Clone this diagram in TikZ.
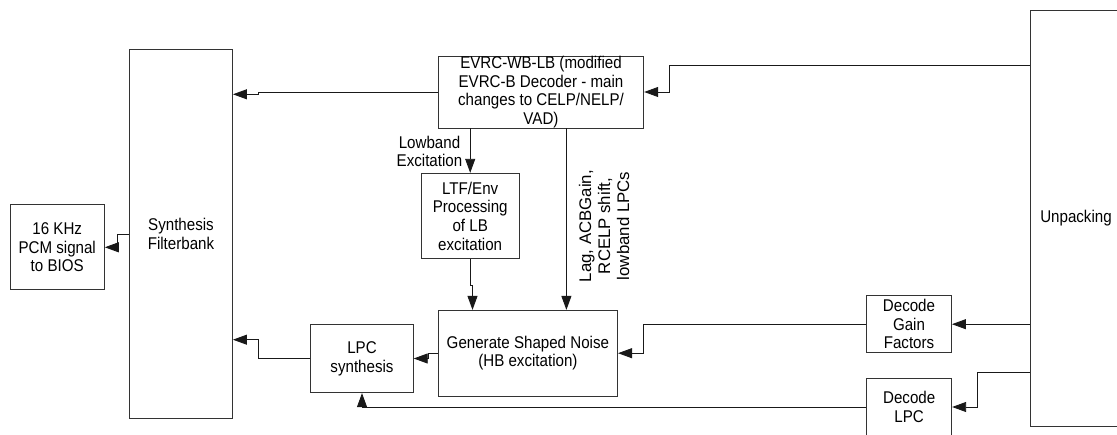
\documentclass[tikz,border=0pt]{standalone}
\usepackage{fontspec}
\setmainfont{Liberation Sans}[FakeStretch=0.89]
\newfontfamily\rotfont{Liberation Sans}
\usetikzlibrary{arrows.meta}
\tikzset{
  box/.style={draw=black!80, line width=0.9pt, fill=white, inner sep=0pt, align=center,
    font=\fontsize{17}{18.7}\selectfont},
  lbl/.style={inner sep=0pt, align=center, font=\fontsize{17}{18.7}\selectfont},
  arr/.style={draw=black!90, line width=0.9pt, -{Triangle[length=14pt,width=10pt]}},
}
\begin{document}
\begin{tikzpicture}[x=1pt,y=-1pt]
\clip (0,0) rectangle (1117,435);
\fill[white] (0,0) rectangle (1117,435);
% boxes
\node[box, minimum width=94.3pt, minimum height=85.3pt] (pcm) at (57.2,247.3) {16 KHz\\PCM signal\\to BIOS};
\node[box, minimum width=103pt, minimum height=368.6pt] (sf) at (181,234) {Synthesis\\Filterbank};
\node[box, minimum width=205.5pt, minimum height=68.6pt] (evrc) at (541,92) {EVRC-WB-LB (modified\\EVRC-B Decoder - main\\changes to CELP/NELP/\\VAD)};
\node[box, minimum width=98.3pt, minimum height=85.4pt] (ltf) at (470.2,216) {LTF/Env\\Processing\\of LB\\excitation};
\node[box, minimum width=179.4pt, minimum height=85.7pt] (gsn) at (527.9,353.2) {Generate Shaped Noise\\(HB excitation)};
\node[box, minimum width=102.5pt, minimum height=68.4pt] (lpc) at (362,358.5) {LPC\\synthesis};
\node[box, minimum width=85pt, minimum height=57pt] (dgf) at (909,324.2) {Decode\\Gain\\Factors};
\node[box, minimum width=85pt, minimum height=57pt] (dlpc) at (909.2,407) {Decode\\LPC};
\node[box, minimum width=92pt, minimum height=415.3pt] (unp) at (1076,218.4) {Unpacking};
% labels
\node[lbl] (lbex) at (429.5,151.5) {Lowband\\Excitation};
\node[lbl, rotate=90, font=\rotfont\fontsize{16.8}{19}\selectfont] (lag) at (604,226) {Lag, ACBGain,\\RCELP shift,\\lowband LPCs};
% helper coordinates
\coordinate (j1) at (258,94.3);
\coordinate (j2) at (669.3,92);
\coordinate (j3) at (472.5,285);
\coordinate (j4) at (643.7,353.2);
\coordinate (j5) at (428.6,358.5);
\coordinate (j6) at (258.2,339.7);
\coordinate (j7) at (117,247.3);
\coordinate (j8) at (977.5,407);
\coordinate (y1) at (0,65);
\coordinate (y2) at (0,372.7);
\coordinate (xl) at (566.4,0);
% connectors
\draw[arr] (evrc.west) -| (j1) -- (sf.east |- j1);
\draw[arr] (unp.west |- y1) -| (j2) -- (evrc.east);
\draw[arr] (evrc.south -| ltf.north) -- (ltf.north);
\draw[arr] (ltf.south) |- (j3) -- (j3 |- gsn.north);
\draw[arr] (xl |- evrc.south) -- (xl |- gsn.north);
\draw[arr] (unp.west |- dgf.east) -- (dgf.east);
\draw[arr] (dgf.west) -| (j4) -- (gsn.east);
\draw[arr] (gsn.west) -| (j5) -- (lpc.east);
\draw[arr] (lpc.west) -| (j6) -- (sf.east |- j6);
\draw[arr] (sf.west) -| (j7) -- (pcm.east);
\draw[arr] (unp.west |- y2) -| (j8) -- (dlpc.east);
\draw[arr] (dlpc.west) -| (lpc.south);
\end{tikzpicture}
\end{document}
